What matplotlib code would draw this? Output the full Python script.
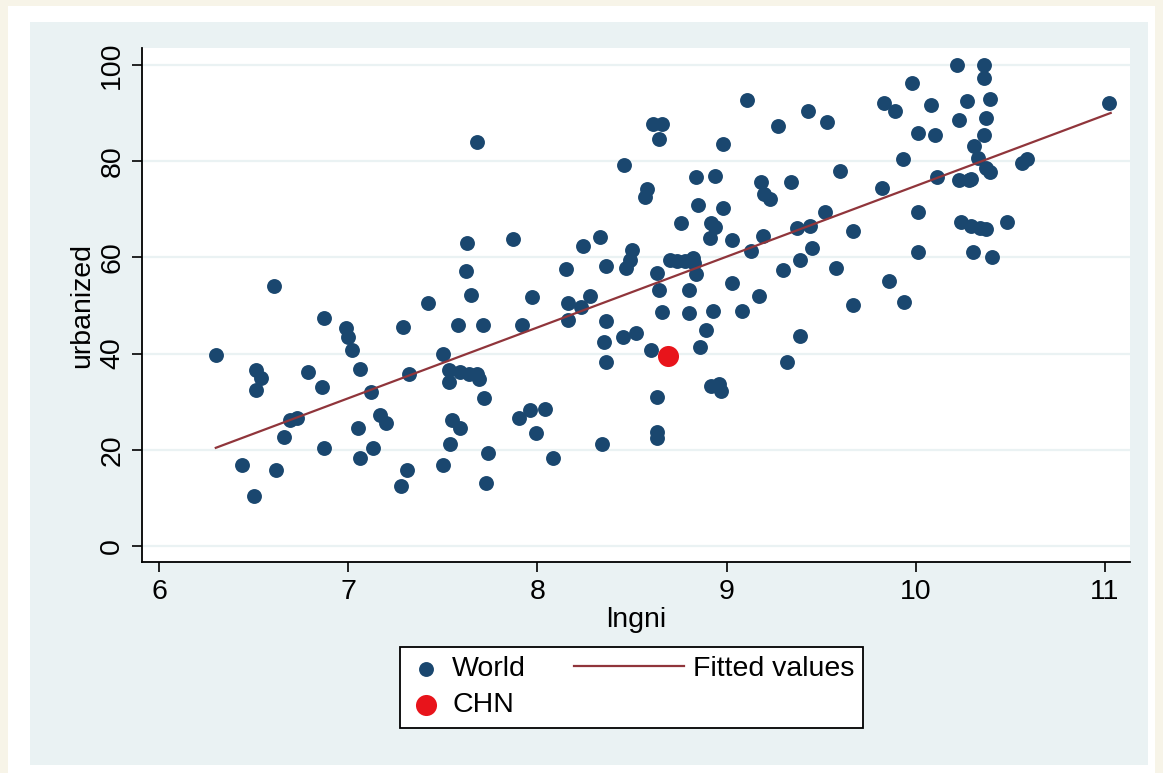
import matplotlib
matplotlib.use("Agg")
import matplotlib.pyplot as plt
from matplotlib.patches import Rectangle
from matplotlib.legend_handler import HandlerLine2D

plt.rcParams["font.family"] = ["Liberation Sans", "DejaVu Sans"]

# values: lngni (x) and urbanized (y)
world_x = [6.30, 6.44, 6.50, 6.51, 6.54, 6.51, 6.61, 6.62, 6.66, 6.69, 6.73, 6.79, 6.86, 6.87, 6.87,
           6.99, 7.00, 7.02, 7.06, 7.05, 7.06, 7.12, 7.13, 7.17, 7.20, 7.28, 7.29, 7.31, 7.32, 7.42,
           7.50, 7.50, 7.53, 7.53, 7.55, 7.54, 7.58, 7.59, 7.59, 7.62, 7.63, 7.65, 7.64, 7.68, 7.69,
           7.68, 7.71, 7.72, 7.73, 7.74, 7.87, 7.90, 7.92, 7.96, 7.97, 7.99, 8.04, 8.08, 8.15, 8.16,
           8.16, 8.23, 8.24, 8.28, 8.33, 8.35, 8.36, 8.36, 8.36, 8.34, 8.45, 8.46, 8.47, 8.49, 8.50,
           8.52, 8.57, 8.58, 8.60, 8.61, 8.66, 8.64, 8.63, 8.64, 8.66, 8.63, 8.63, 8.63, 8.70, 8.74,
           8.76, 8.78, 8.80, 8.80, 8.82, 8.83, 8.84, 8.84, 8.85, 8.86, 8.89, 8.91, 8.92, 8.94, 8.93,
           8.92, 8.94, 8.96, 8.97, 8.98, 8.98, 9.03, 9.03, 9.08, 9.11, 9.13, 9.17, 9.18, 9.19, 9.20,
           9.23, 9.27, 9.30, 9.32, 9.34, 9.37, 9.39, 9.39, 9.43, 9.44, 9.45, 9.52, 9.53, 9.58, 9.60,
           9.67, 9.67, 9.82, 9.83, 9.86, 9.89, 9.93, 9.94, 9.98, 10.01, 10.01, 10.01, 10.08, 10.10, 10.11,
           10.22, 10.23, 10.23, 10.24, 10.27, 10.28, 10.29, 10.29, 10.30, 10.31, 10.33, 10.36, 10.36, 10.37, 10.36,
           10.37, 10.34, 10.37, 10.39, 10.39, 10.40, 10.48, 10.56, 10.59, 11.02]
world_y = [39.7, 16.8, 10.4, 36.6, 35.0, 32.4, 54.0, 15.8, 22.7, 26.2, 26.6, 36.2, 33.0, 47.4, 20.4,
           45.3, 43.5, 40.7, 36.8, 24.5, 18.3, 32.0, 20.4, 27.2, 25.6, 12.5, 45.5, 15.8, 35.8, 50.5,
           40.0, 16.8, 36.6, 34.1, 26.2, 21.2, 46.0, 36.2, 24.5, 57.2, 63.0, 52.2, 35.8, 35.8, 34.7,
           84.0, 46.0, 30.8, 13.1, 19.3, 63.8, 26.6, 46.0, 28.3, 51.8, 23.5, 28.5, 18.3, 57.6, 50.5,
           47.0, 49.7, 62.4, 52.0, 64.2, 42.4, 58.2, 46.8, 38.3, 21.2, 43.5, 79.2, 57.8, 59.5, 61.5,
           44.3, 72.6, 74.2, 40.7, 87.7, 87.7, 84.6, 56.8, 53.2, 48.6, 31.0, 23.7, 22.5, 59.5, 59.3,
           67.2, 59.3, 53.2, 48.4, 59.9, 58.8, 56.5, 76.7, 70.9, 41.4, 44.9, 64.0, 67.2, 66.3, 48.9,
           33.3, 76.9, 33.7, 32.2, 70.3, 83.6, 63.6, 54.7, 48.9, 92.7, 61.3, 52.0, 75.7, 64.4, 73.2,
           72.1, 87.3, 57.4, 38.3, 75.7, 66.1, 59.5, 43.7, 90.4, 66.5, 62.0, 69.4, 88.1, 57.8, 78.0,
           65.5, 50.1, 74.4, 92.1, 55.1, 90.4, 80.5, 50.7, 96.3, 85.9, 69.4, 61.1, 91.7, 85.4, 76.7,
           100.0, 88.6, 76.1, 67.4, 92.5, 76.1, 76.3, 66.5, 61.1, 83.2, 80.7, 100.0, 97.3, 89.0, 85.4,
           78.6, 66.1, 65.9, 77.8, 92.9, 60.1, 67.4, 79.6, 80.5, 92.1]

chn_x = [8.69]
chn_y = [39.5]

# fitted line, drawn from min to max lngni
fit_x = [6.30, 11.03]
fit_y = [20.4, 90.0]

W, H = 1163, 773
FS = 20.5
fig = plt.figure(figsize=(W / 100, H / 100), dpi=100, facecolor="#F7F4E8")

# white card and the light blue graph region behind the plot
fig.patches.append(Rectangle((8 / W, 0), 1147 / W, 1 - 6 / H, transform=fig.transFigure,
                             facecolor="white", edgecolor="none", zorder=-2))
fig.patches.append(Rectangle((30 / W, 1 - 765 / H), 1118 / W, 743 / H, transform=fig.transFigure,
                             facecolor="#EAF2F3", edgecolor="none", zorder=-1))

ax = fig.add_axes([142 / W, 1 - 562 / H, 988 / W, 514 / H])
ax.set_facecolor("white")

ax.scatter(world_x, world_y, s=115, color="#1A476F", zorder=3, label="World", linewidths=0)
ax.scatter(chn_x, chn_y, s=230, color="#E8141B", zorder=4, label="CHN", linewidths=0)
fit_line, = ax.plot(fit_x, fit_y, color="#90353B", lw=1.6, zorder=3.5, label="Fitted values")

ax.set_xlim(5.91, 11.132)
ax.set_ylim(-3.33, 103.5)
ax.set_xticks([6, 7, 8, 9, 10, 11])
ax.set_yticks([0, 20, 40, 60, 80, 100])
ax.grid(axis="y", color="#EAF2F3", lw=1.6, zorder=0)
ax.grid(axis="x", visible=False)
ax.set_axisbelow(True)

for side in ["top", "right"]:
    ax.spines[side].set_visible(False)
for side in ["left", "bottom"]:
    ax.spines[side].set_color("black")
    ax.spines[side].set_linewidth(1.3)

ax.tick_params(direction="out", length=7, width=1.2, labelsize=FS, colors="black", pad=5)
for lab in ax.get_yticklabels():
    lab.set_rotation(90)
    lab.set_verticalalignment("center")

ax.set_xlabel("lngni", fontsize=FS, labelpad=2)
ax.set_ylabel("urbanized", fontsize=FS, labelpad=3)


class LongLine(HandlerLine2D):
    # line sample longer than the marker slots, extending to the left
    def get_xdata(self, legend, xdescent, ydescent, width, height, fontsize):
        xdata = [-xdescent + width - 3.86 * fontsize, -xdescent + width]
        return xdata, [xdata[1]]


handles, labels = ax.get_legend_handles_labels()
order = [labels.index("World"), labels.index("CHN"), labels.index("Fitted values")]
leg = fig.legend([handles[i] for i in order], [labels[i] for i in order], ncol=2,
                 loc="upper left", bbox_to_anchor=(400 / W, 1 - 647 / H), borderaxespad=0,
                 fontsize=FS, frameon=True, fancybox=False, framealpha=1, edgecolor="black",
                 handlelength=1.2, handletextpad=0.3, columnspacing=4.35, borderpad=0.33,
                 labelspacing=0.35, scatterpoints=1, handler_map={fit_line: LongLine()})
leg.get_frame().set_linewidth(1.3)

fig.savefig("out.png", dpi=100, facecolor=fig.get_facecolor())
